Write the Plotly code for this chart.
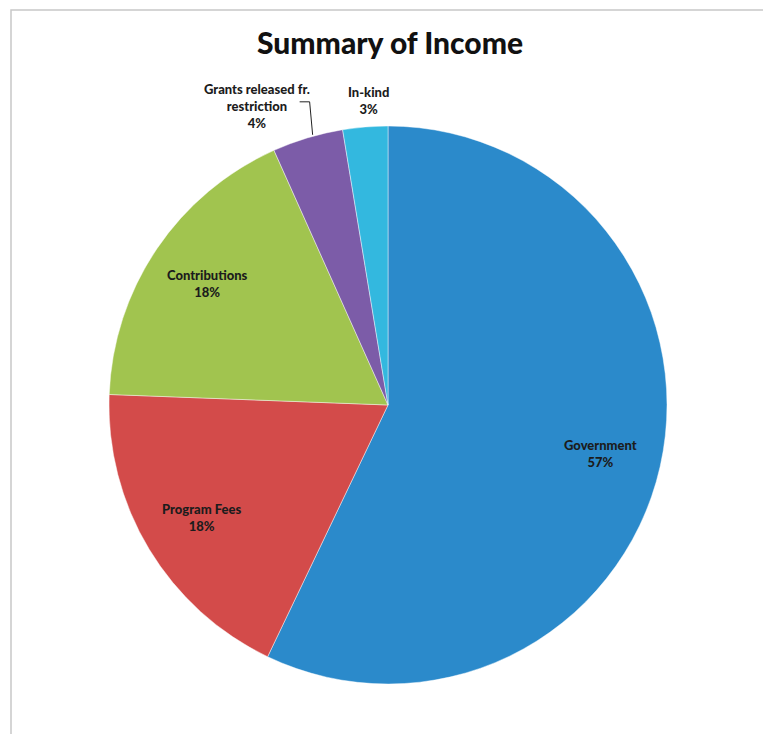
import math
import plotly.graph_objects as go

# ---- data ----
categories = ["Government", "Program Fees", "Contributions", "Grants released fr.<br>restriction", "In-kind"]
values = [57.1, 18.5, 17.7, 4.1, 2.6]
colors = ["#2B8ACB", "#D34B4A", "#A1C44F", "#7C5CA8", "#33B8DF"]
title_text = "Summary of Income"

W, H = 771, 734
OFF = 8  # page body margin offset (px)
CX, CY, R = 388, 405, 279  # pie centre and radius (screen px)

def px2paper(x, y):
    return (x - OFF) / W, 1 - (y - OFF) / H

d0 = px2paper(CX - R, CY + R)
d1 = px2paper(CX + R, CY - R)

fig = go.Figure()
fig.add_trace(go.Pie(
    labels=categories,
    values=values,
    sort=False,
    direction="clockwise",
    rotation=0,
    textinfo="none",
    hoverinfo="label+percent",
    marker=dict(colors=colors, line=dict(color="rgba(255,255,255,0.55)", width=0.8)),
    domain=dict(x=[d0[0], d1[0]], y=[d0[1], d1[1]]),
    showlegend=False,
))

total = sum(values)
cum = 0.0
annotations = []
shapes = []
label_font = dict(family="Lato, Open Sans, sans-serif", size=13, color="#1c1c1c", weight=900)
for i, (cat, v) in enumerate(zip(categories, values)):
    frac = v / total
    mid = (cum + frac / 2) * 2 * math.pi
    cum += frac
    dx, dy = math.sin(mid), -math.cos(mid)
    pct = f"{round(frac * 100):d}%"
    text = f"{cat}<br>{pct}"
    if frac > 0.1:
        lx, ly = CX + 0.78 * R * dx, CY + 0.78 * R * dy
    else:
        ex, ey = CX + R * dx, CY + R * dy
        if i == 3:
            lx, ly = ex - 51, ey - 32
            p0 = px2paper(ex + 5, ey - 3)
            p1 = px2paper(ex + 2, ey - 36)
            p2 = px2paper(ex - 8, ey - 36)
            shapes.append(dict(type="path", xref="paper", yref="paper",
                               path=f"M {p0[0]},{p0[1]} L {p1[0]},{p1[1]} L {p2[0]},{p2[1]}",
                               line=dict(color="#222222", width=1)))
        else:
            lx, ly = ex + 3, ey - 26
    ax, ay = px2paper(lx, ly)
    annotations.append(dict(x=ax, y=ay, xref="paper", yref="paper", text=text,
                            xanchor="center", yanchor="middle",
                            showarrow=False, font=label_font, align="center"))

# title
tx, ty = px2paper(390, 42)
annotations.append(dict(x=tx, y=ty, xref="paper", yref="paper", text=title_text,
                        xanchor="center", yanchor="middle", showarrow=False,
                        font=dict(family="Lato, Open Sans, sans-serif", size=30, color="#111111", weight=900)))

# chart frame
fx0, fy0 = px2paper(11, 10)
fx1, _ = px2paper(769, 0)
shapes.append(dict(type="rect", xref="paper", yref="paper", x0=fx0, x1=fx1, y0=-0.05, y1=fy0,
                   line=dict(color="#C8C8C8", width=1.5), layer="below"))

fig.update_layout(
    width=W, height=H,
    margin=dict(l=0, r=0, t=0, b=0),
    paper_bgcolor="white", plot_bgcolor="white",
    annotations=annotations,
    shapes=shapes,
)

fig.write_html("out.html")
